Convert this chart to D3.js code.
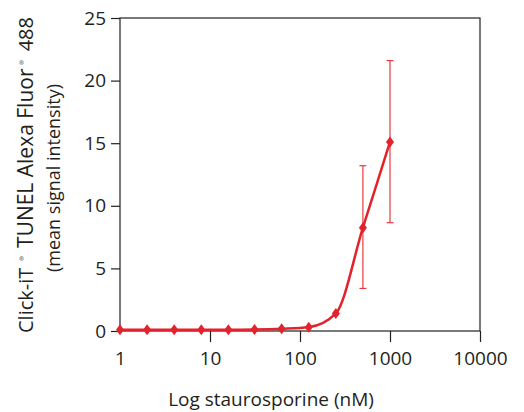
<!DOCTYPE html>
<html>
<head>
<meta charset="utf-8">
<script src="https://cdn.jsdelivr.net/npm/d3@7"></script>
<style>
  body { margin: 0; background: #fff; }
  text { font-family: "Open Sans", sans-serif; fill: #231f20; }
</style>
</head>
<body>
<div id="chart"></div>
<script>
// staurosporine dose (nM) and mean signal
var doses = [1, 2, 4, 8, 16, 31.25, 62.5, 125, 250, 500, 1000];
var signal = [0.1, 0.1, 0.1, 0.1, 0.1, 0.12, 0.18, 0.3, 1.4, 8.25, 15.1];
var errLow = [0.1, 0.1, 0.1, 0.1, 0.1, 0.12, 0.18, 0.3, 1.2, 3.4, 8.65];
var errHigh = [0.1, 0.1, 0.1, 0.1, 0.1, 0.12, 0.18, 0.3, 1.6, 13.2, 21.6];
var xTicks = [1, 10, 100, 1000, 10000];
var yTicks = [0, 5, 10, 15, 20, 25];

var margin = {top: 18, right: 44, bottom: 81, left: 120},
    width = 524 - margin.left - margin.right,
    height = 412 - margin.top - margin.bottom;

var svg = d3.select("#chart").append("svg")
    .attr("width", 524)
    .attr("height", 412)
  .append("g")
    .attr("transform", "translate(" + margin.left + "," + margin.top + ")");

var x = d3.scaleLog().domain([1, 10000]).range([0, width]);
var y = d3.scaleLinear().domain([0, 25]).range([height, 0]);

var axisColor = "#231f20";
var red = "#e3222b";

// frame
svg.append("rect")
    .attr("width", width)
    .attr("height", height)
    .attr("fill", "none")
    .attr("stroke", axisColor)
    .attr("stroke-width", 1.2);

var xAxis = d3.axisBottom(x).tickValues(xTicks).tickFormat(d3.format("d")).tickSize(11).tickPadding(10);
var yAxis = d3.axisLeft(y).tickValues(yTicks).tickSize(9).tickPadding(5);

var gx = svg.append("g")
    .attr("transform", "translate(0," + height + ")")
    .call(xAxis);
var gy = svg.append("g").call(yAxis);

[gx, gy].forEach(function(g){
    g.select(".domain").remove();
    g.selectAll("line").attr("stroke", axisColor).attr("stroke-width", 1.2);
    g.selectAll("text")
        .style("font-size", "19px")
        .style("font-family", "'Open Sans', sans-serif")
        .attr("fill", axisColor);
});
gx.selectAll(".tick").filter(function(d){ return d == 1; }).select("line").remove();

// error bars
var rows = doses.map(function(d, i){
    return {x: d, y: signal[i], lo: errLow[i], hi: errHigh[i]};
});
var eb = svg.selectAll(".err")
    .data(rows.filter(function(d){ return d.hi - d.lo > 0.5; }))
    .enter().append("g")
    .attr("class", "err")
    .attr("stroke", "#e63a42")
    .attr("stroke-width", 1.2);
eb.append("line")
    .attr("x1", function(d){ return x(d.x); })
    .attr("x2", function(d){ return x(d.x); })
    .attr("y1", function(d){ return y(d.lo); })
    .attr("y2", function(d){ return y(d.hi); });
eb.selectAll(".cap")
    .data(function(d){ return [d.lo, d.hi].map(function(v){ return {x: d.x, v: v}; }); })
    .enter().append("line")
    .attr("x1", function(d){ return x(d.x) - 3.5; })
    .attr("x2", function(d){ return x(d.x) + 3.5; })
    .attr("y1", function(d){ return y(d.v); })
    .attr("y2", function(d){ return y(d.v); });

// fitted line
var line = d3.line()
    .x(function(d){ return x(d.x); })
    .y(function(d){ return y(d.y); })
    .curve(d3.curveMonotoneX);
svg.append("path")
    .datum(rows)
    .attr("fill", "none")
    .attr("stroke", red)
    .attr("stroke-width", 2.5)
    .attr("d", line);

// diamond markers (taller than wide)
var diamond = {
    draw: function(ctx){
        ctx.moveTo(0, -5.5);
        ctx.lineTo(4, 0);
        ctx.lineTo(0, 5.5);
        ctx.lineTo(-4, 0);
        ctx.closePath();
    }
};
svg.selectAll(".pt")
    .data(rows)
    .enter().append("path")
    .attr("class", "pt")
    .attr("transform", function(d){ return "translate(" + x(d.x) + "," + y(d.y) + ")"; })
    .attr("d", d3.symbol().type(diamond))
    .attr("fill", red);

// x label
svg.append("text")
    .attr("x", 271 - margin.left)
    .attr("y", height + 75)
    .attr("text-anchor", "middle")
    .style("font-size", "19px")
    .text("Log staurosporine (nM)");

// y label, first line in pieces (wide gaps round the ® marks)
var yl = svg.append("g")
    .attr("transform", "translate(" + (33 - margin.left) + "," + (-margin.top) + ") rotate(-90)");
yl.append("text").attr("x", -333).style("font-size", "20px").text("Click-iT");
yl.append("text").attr("x", -261).attr("y", -9).style("font-size", "6px").text("®");
yl.append("text").attr("x", -248).style("font-size", "21px").text("TUNEL Alexa Fluor");
yl.append("text").attr("x", -65).attr("y", -9).style("font-size", "6px").text("®");
yl.append("text").attr("x", -17).attr("text-anchor", "end").style("font-size", "20px").text("488");

svg.append("text")
    .attr("transform", "translate(" + (60 - margin.left) + "," + (178 - margin.top) + ") rotate(-90)")
    .attr("text-anchor", "middle")
    .style("font-size", "18px")
    .text("(mean signal intensity)");
</script>
</body>
</html>
